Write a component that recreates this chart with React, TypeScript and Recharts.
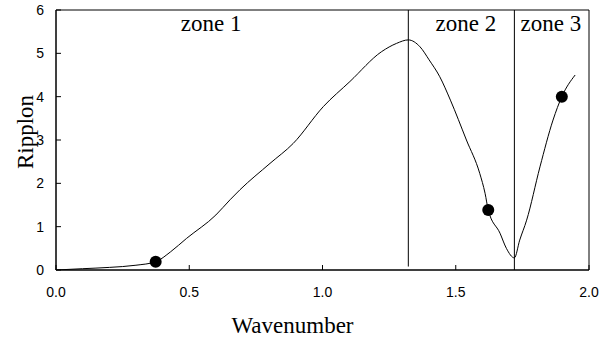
import React from 'react';
import {
  ComposedChart,
  Line,
  Scatter,
  XAxis,
  YAxis,
  ReferenceLine,
  ReferenceArea,
  ReferenceDot,
  Label,
} from 'recharts';

// Curve (Wavenumber, Ripplon)
const curveX = [
  0, 0.1, 0.2, 0.3, 0.374, 0.43, 0.49, 0.6, 0.653, 0.69, 0.803, 0.89, 1.003,
  1.103, 1.222, 1.278, 1.322, 1.366, 1.4, 1.44, 1.48, 1.54, 1.59, 1.61, 1.622,
  1.666, 1.69, 1.72, 1.74, 1.766, 1.816, 1.865, 1.898, 1.948,
];
const curveY = [
  0, 0.03, 0.06, 0.11, 0.19, 0.42, 0.73, 1.27, 1.62, 1.85, 2.46, 2.92, 3.77,
  4.35, 5.04, 5.23, 5.31, 5.15, 4.85, 4.46, 3.92, 3.0, 2.23, 1.77, 1.385,
  0.85, 0.5, 0.28, 0.69, 1.15, 2.38, 3.46, 4.0, 4.5,
];

// Marked points
const dotX = [0.374, 1.622, 1.898];
const dotY = [0.19, 1.385, 4.0];

// Axes
const xTicks = [0, 0.5, 1, 1.5, 2];
const yTicks = [0, 1, 2, 3, 4, 5, 6];

// Zones
const zoneBounds = [1.322, 1.72];
const zoneLabels = ['zone 1', 'zone 2', 'zone 3'];
const zoneLabelX = [0.582, 1.538, 1.857];
const zoneLabelY = 5.52;

const curve = curveX.map((x, i) => ({ x, y: curveY[i] }));
const dots = dotX.map((x, i) => ({ x, y: dotY[i] }));

const SANS = '"Liberation Sans", Arial, sans-serif';
const SERIF = '"Liberation Serif", "Times New Roman", serif';

const XTick = (props: any) => {
  const { x, y, payload } = props;
  return (
    <text x={x} y={y + 15} textAnchor="middle" fontFamily={SANS} fontSize={14} fill="#000">
      {Number(payload.value).toFixed(1)}
    </text>
  );
};

const YTick = (props: any) => {
  const { x, y, payload } = props;
  return (
    <text x={x} y={y + 5} textAnchor="end" fontFamily={SANS} fontSize={14} fill="#000">
      {payload.value}
    </text>
  );
};

export default function App() {
  return (
    <div style={{ position: 'absolute', left: 0, top: 0, width: 612, height: 340, background: '#fff' }}>
      <ComposedChart
        width={612}
        height={340}
        margin={{ top: 10, right: 23, bottom: 0, left: 0 }}
      >
        <XAxis
          type="number"
          dataKey="x"
          domain={[0, 2]}
          ticks={xTicks}
          height={70}
          tickSize={-5}
          tickMargin={17}
          stroke="#000"
          tick={<XTick />}
          allowDataOverflow
        >
          <Label
            content={(props: any) => {
              const vb = props.viewBox;
              return (
                <text
                  x={vb.x + vb.width / 2 - 30}
                  y={333}
                  textAnchor="middle"
                  fontFamily={SERIF}
                  fontSize={23}
                  fill="#000"
                >
                  Wavenumber
                </text>
              );
            }}
          />
        </XAxis>
        <YAxis
          type="number"
          dataKey="y"
          domain={[0, 6]}
          ticks={yTicks}
          width={56}
          tickSize={-5}
          tickMargin={17}
          stroke="#000"
          tick={<YTick />}
          allowDataOverflow
        >
          <Label
            content={(props: any) => {
              const vb = props.viewBox;
              const cx = 33;
              const cy = vb.y + vb.height / 2 - 8;
              return (
                <text
                  x={cx}
                  y={cy}
                  transform={`rotate(-90 ${cx} ${cy})`}
                  textAnchor="middle"
                  fontFamily={SERIF}
                  fontSize={23}
                  fill="#000"
                >
                  Ripplon
                </text>
              );
            }}
          />
        </YAxis>
        <ReferenceArea
          x1={0}
          x2={2}
          y1={0}
          y2={6}
          fill="none"
          stroke="#000"
          strokeWidth={1}
          ifOverflow="visible"
        />
        <ReferenceLine
          segment={[
            { x: zoneBounds[0], y: 0.08 },
            { x: zoneBounds[0], y: 6 },
          ]}
          stroke="#000"
          strokeWidth={1}
        />
        <ReferenceLine x={zoneBounds[1]} stroke="#000" strokeWidth={1} />
        {zoneLabels.map((t, i) => (
          <ReferenceDot
            key={t}
            x={zoneLabelX[i]}
            y={zoneLabelY}
            r={0}
            fill="none"
            stroke="none"
            label={{
              content: (props: any) => {
                const vb = props.viewBox;
                return (
                  <text
                    x={vb.x + vb.width / 2}
                    y={vb.y + vb.height / 2}
                    textAnchor="middle"
                    fontFamily={SERIF}
                    fontSize={23}
                    fill="#000"
                  >
                    {t}
                  </text>
                );
              },
            }}
          />
        ))}
        <Line
          data={curve}
          dataKey="y"
          type="monotone"
          stroke="#000"
          strokeWidth={1}
          dot={false}
          activeDot={false}
          isAnimationActive={false}
        />
        <Scatter
          data={dots}
          dataKey="y"
          isAnimationActive={false}
          shape={(p: any) => <circle cx={p.cx} cy={p.cy} r={6} fill="#000" />}
        />
      </ComposedChart>
    </div>
  );
}
